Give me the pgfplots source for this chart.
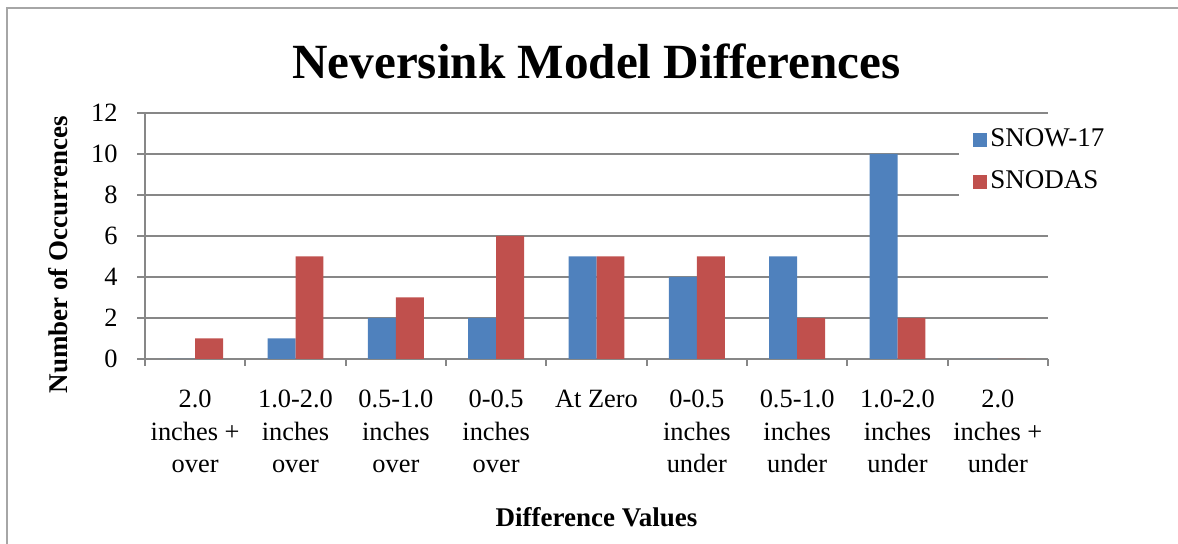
\documentclass[border=0pt]{standalone}
\usepackage{fontspec}
\setmainfont{Liberation Serif}
\usepackage{pgfplots}
\pgfplotsset{compat=1.18}
\definecolor{snowblue}{HTML}{4F81BD}
\definecolor{snodasred}{HTML}{C0504D}
\definecolor{axgray}{HTML}{878787}
\definecolor{framegray}{HTML}{A6A6A6}
\begin{document}
\begin{tikzpicture}
\path[use as bounding box] (0,0) rectangle (589pt,272pt);
\draw[framegray, line width=1pt] (3.5pt,0) -- (3.5pt,268pt) -- (589pt,268pt);
\begin{axis}[
  at={(72.5pt,92.5pt)}, anchor=south west,
  scale only axis, width=451.5pt, height=123pt,
  ybar=0pt, bar width=0.279,
  xmin=-0.5, xmax=8.5, ymin=0, ymax=12,
  xtick={0,...,8},
  xticklabels={{2.0\\inches +\\over},{1.0-2.0\\inches\\over},{0.5-1.0\\inches\\over},{0-0.5\\inches\\over},{At Zero},{0-0.5\\inches\\under},{0.5-1.0\\inches\\under},{1.0-2.0\\inches\\under},{2.0\\inches +\\under}},
  minor xtick={-0.5,0.5,...,8.5},
  ytick={0,2,...,12},
  axis x line*=bottom, axis y line*=left,
  axis line style={-, axgray, line width=1pt},
  tick align=outside, major tick length=4pt, minor tick length=3.5pt,
  tick style={axgray, line width=1pt},
  major x tick style={draw=none},
  ymajorgrids, grid style={axgray, line width=0.75pt},
  tick label style={font=\fontsize{13.2}{16.2}\selectfont},
  /pgf/number format/assume math mode=true,
  xticklabel style={align=center, anchor=north, inner sep=0pt, yshift=-11.5pt},
  yticklabel style={anchor=east, inner sep=0pt, xshift=-9.5pt},
  title={Neversink Model Differences},
  title style={at={(axis description cs:0.5,1)}, anchor=base, yshift=11pt, font=\bfseries\fontsize{24.6}{28}\selectfont},
  xlabel={Difference Values},
  xlabel style={at={(axis description cs:0.5,0)}, anchor=base, yshift=-84pt, font=\bfseries\fontsize{13.5}{15}\selectfont},
  ylabel={Number of Occurrences},
  ylabel style={at={(axis description cs:-0.0853,0.423)}, anchor=base, font=\bfseries\fontsize{13.5}{15}\selectfont},
  legend cell align=left,
  legend style={draw=none, fill=white, at={(axis description cs:0.9014,0.9797)}, anchor=north west,
    inner xsep=7pt, inner ysep=4pt, row sep=7pt, font=\fontsize{13.5}{15}\selectfont,
    nodes={inner sep=1.5pt, text height=8.5pt, text depth=2.5pt}},
]
\addplot[fill=snowblue, draw=none, legend image code/.code={\fill[snowblue] (0pt,-3.5pt) rectangle (7pt,3.5pt);}]
  coordinates {(0,0) (1,1) (2,2) (3,2) (4,5) (5,4) (6,5) (7,10) (8,0)};
\addplot[fill=snodasred, draw=none, legend image code/.code={\fill[snodasred] (0pt,-3.5pt) rectangle (7pt,3.5pt);}]
  coordinates {(0,1) (1,5) (2,3) (3,6) (4,5) (5,5) (6,2) (7,2) (8,0)};
\legend{SNOW-17, SNODAS}
\end{axis}
\end{tikzpicture}
\end{document}
